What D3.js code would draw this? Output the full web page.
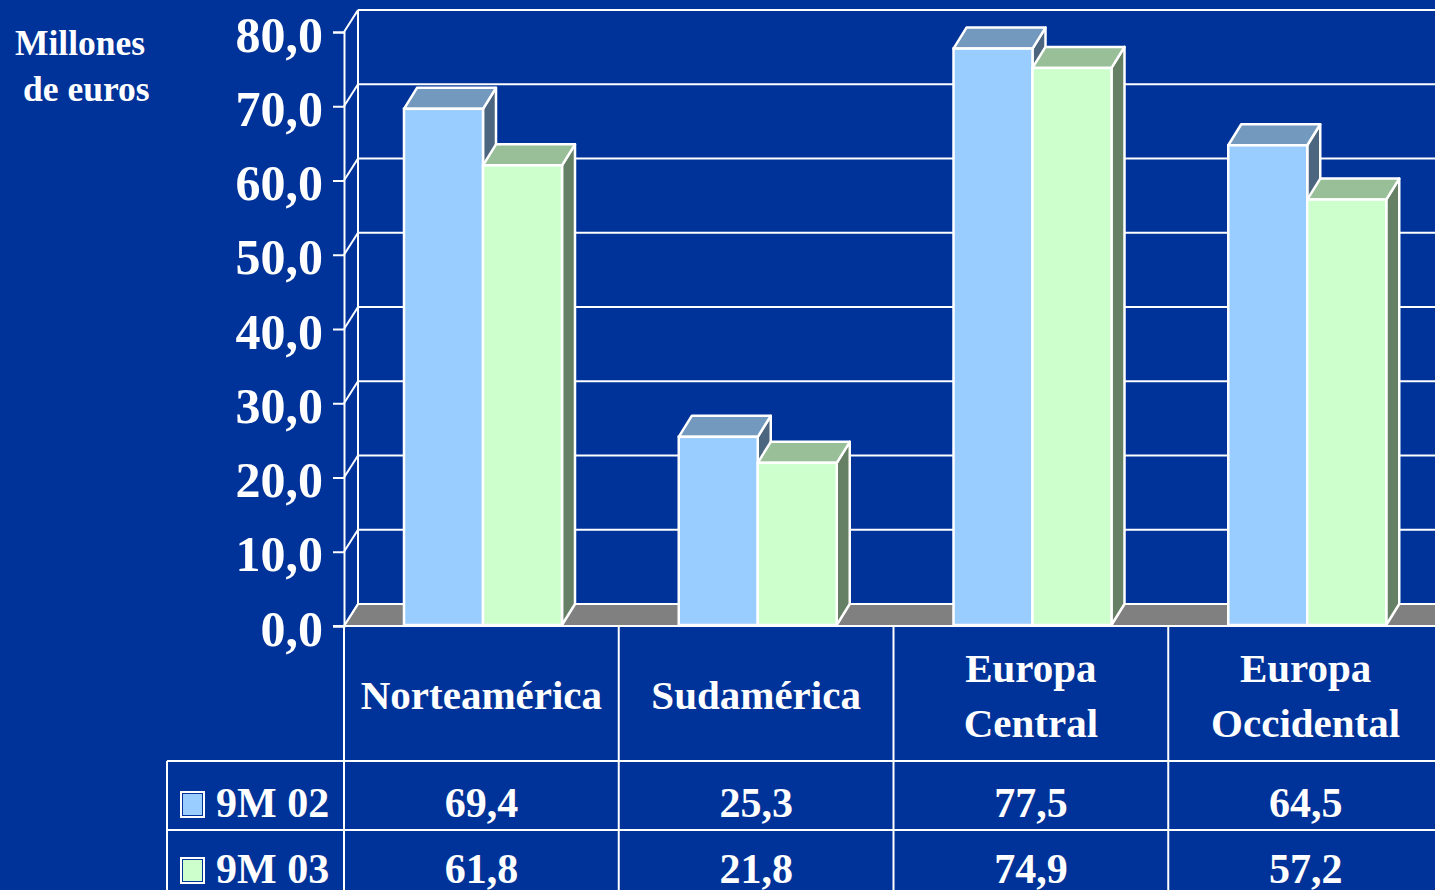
<!doctype HTML>
<html>
<head>
    <meta charset="utf-8">
    <style>
        body { margin: 0; background: #003399; }
        text { font-family: "Liberation Serif", "Times New Roman", serif; font-weight: bold; fill: #fff; }
    </style>
    <script src="https://d3js.org/d3.v7.min.js"></script>
</head>
<body>
<script>
    // data
    var categories = ["Norteamérica", "Sudamérica", "Europa Central", "Europa Occidental"];
    var categoryLines = [["Norteamérica"], ["Sudamérica"], ["Europa", "Central"], ["Europa", "Occidental"]];
    var seriesNames = ["9M 02", "9M 03"];
    var values02 = [69.4, 25.3, 77.5, 64.5];
    var values03 = [61.8, 21.8, 74.9, 57.2];
    var yTicks = [0, 10, 20, 30, 40, 50, 60, 70, 80];

    var canvasWidth = 1435;
    var canvasHeight = 890;
    var bg = "#003399";

    var colors = {
        "9M 02": {front: "#99ccff", top: "#7399bf", side: "#4c6680"},
        "9M 03": {front: "#ccffcc", top: "#99bf99", side: "#668066"}
    };

    var svg = d3.select("body").append("svg")
        .attr("width", canvasWidth)
        .attr("height", canvasHeight);

    svg.append("rect").attr("width", canvasWidth).attr("height", canvasHeight).attr("fill", bg);

    // wall depth (front plane -> back wall) and bar depth
    var wallDx = 14, wallDy = -22;
    var barDx = 13, barDy = -21;

    var xScale = d3.scaleBand().domain(categories).range([344, 1443]);
    var xSeries = d3.scaleBand().domain(seriesNames).range([60, 218]);
    var yScale = d3.scaleLinear().domain([0, 80]).range([626, 32]);
    var yBar = d3.scaleLinear().domain([0, 80]).range([625, 30]);

    var fmt = function(v) { return d3.format(".1f")(v).replace(".", ","); };

    var x0 = xScale.range()[0];
    var right = canvasWidth + 20;

    // back wall gridlines
    var wall = svg.append("g");
    wall.selectAll(".grid")
        .data(yTicks)
        .enter().append("line")
        .attr("x1", x0 + wallDx).attr("x2", right)
        .attr("y1", function(d) { return yScale(d) + wallDy; })
        .attr("y2", function(d) { return yScale(d) + wallDy; })
        .attr("stroke", "#fff").attr("stroke-width", 2);

    // floor
    wall.append("polygon")
        .attr("points", [[x0, yScale(0)], [x0 + wallDx, yScale(0) + wallDy], [right, yScale(0) + wallDy], [right, yScale(0)]].join(" "))
        .attr("fill", "#808080")
        .attr("stroke", "#fff").attr("stroke-width", 2);

    // side wall: back edge, front axis, diagonals
    wall.append("line")
        .attr("x1", x0 + wallDx).attr("x2", x0 + wallDx)
        .attr("y1", yScale(80) + wallDy).attr("y2", yScale(0) + wallDy)
        .attr("stroke", "#fff").attr("stroke-width", 2);
    wall.selectAll(".diag")
        .data(yTicks)
        .enter().append("line")
        .attr("x1", x0).attr("x2", x0 + wallDx)
        .attr("y1", function(d) { return yScale(d); })
        .attr("y2", function(d) { return yScale(d) + wallDy; })
        .attr("stroke", "#fff").attr("stroke-width", 2);

    // front y axis with ticks
    var axisG = svg.append("g").attr("transform", "translate(" + x0 + ",0)")
        .call(d3.axisLeft(yScale).tickValues(yTicks).tickSize(11).tickPadding(10).tickFormat(fmt));
    axisG.select(".domain").attr("stroke", "#fff").attr("stroke-width", 2);
    axisG.selectAll(".tick line").attr("stroke", "#fff").attr("stroke-width", 2);
    axisG.selectAll(".tick text")
        .attr("font-size", 50)
        .attr("fill", "#fff")
        .attr("font-family", "Liberation Serif, Times New Roman, serif")
        .attr("font-weight", "bold")
        .attr("dy", "0.38em");

    // bars
    var rows = [];
    categories.forEach(function(c, i) {
        rows.push({cat: c, series: "9M 02", value: values02[i]});
        rows.push({cat: c, series: "9M 03", value: values03[i]});
    });

    var bars = svg.append("g").selectAll(".bar")
        .data(rows)
        .enter().append("g").attr("class", "bar");

    bars.each(function(d) {
        var g = d3.select(this);
        var xl = xScale(d.cat) + xSeries(d.series);
        var xr = xl + xSeries.bandwidth();
        var yt = yBar(d.value);
        var yb = yBar(0);
        var c = colors[d.series];
        g.append("polygon")
            .attr("points", [[xr, yt], [xr + barDx, yt + barDy], [xr + barDx, yb + barDy], [xr, yb]].join(" "))
            .attr("fill", c.side).attr("stroke", "#fff").attr("stroke-width", 2.5).attr("stroke-linejoin", "round");
        g.append("polygon")
            .attr("points", [[xl, yt], [xl + barDx, yt + barDy], [xr + barDx, yt + barDy], [xr, yt]].join(" "))
            .attr("fill", c.top).attr("stroke", "#fff").attr("stroke-width", 2.5).attr("stroke-linejoin", "round");
        g.append("rect")
            .attr("x", xl).attr("y", yt)
            .attr("width", xr - xl).attr("height", yb - yt)
            .attr("fill", c.front).attr("stroke", "#fff").attr("stroke-width", 2.5);
    });

    // unit label
    svg.append("text").attr("x", 15).attr("y", 55).attr("font-size", 35.5).text("Millones");
    svg.append("text").attr("x", 23).attr("y", 101).attr("font-size", 35.5).text("de euros");

    // data table
    var table = svg.append("g");
    var tblTop = yScale(0), row1 = 761, row2 = 830, tblLeft = 167;

    table.append("line").attr("x1", x0 - 11).attr("x2", right).attr("y1", tblTop).attr("y2", tblTop)
        .attr("stroke", "#fff").attr("stroke-width", 2);
    [row1, row2].forEach(function(y) {
        table.append("line").attr("x1", tblLeft).attr("x2", right).attr("y1", y).attr("y2", y)
            .attr("stroke", "#fff").attr("stroke-width", 2);
    });
    table.append("line").attr("x1", tblLeft).attr("x2", tblLeft).attr("y1", row1).attr("y2", canvasHeight)
        .attr("stroke", "#fff").attr("stroke-width", 2);
    table.selectAll(".col")
        .data(categories)
        .enter().append("line")
        .attr("x1", function(d) { return xScale(d); })
        .attr("x2", function(d) { return xScale(d); })
        .attr("y1", tblTop).attr("y2", canvasHeight)
        .attr("stroke", "#fff").attr("stroke-width", 2);

    // category headers
    table.selectAll(".cat")
        .data(categories)
        .enter().append("text")
        .attr("text-anchor", "middle")
        .attr("font-size", 41)
        .each(function(d, i) {
            var lines = categoryLines[i];
            var cx = xScale(d) + xScale.bandwidth() / 2;
            var start = 709 - (lines.length - 1) * 27.5;
            var t = d3.select(this);
            lines.forEach(function(l, j) {
                t.append("tspan").attr("x", cx).attr("y", start + j * 55).text(l);
            });
        });

    // legend cells + values
    var seriesValues = [values02, values03];
    var baselines = [817, 883];
    seriesNames.forEach(function(s, k) {
        var by = baselines[k];
        table.append("rect")
            .attr("x", 181).attr("y", by - 25).attr("width", 23).attr("height", 25)
            .attr("fill", colors[s].front).attr("stroke", "#fff").attr("stroke-width", 2);
        table.append("rect")
            .attr("x", 182.5).attr("y", by - 23.5).attr("width", 20).attr("height", 22)
            .attr("fill", "none").attr("stroke", bg).attr("stroke-width", 1);
        table.append("text").attr("x", 216).attr("y", by).attr("font-size", 42).text(s);
        table.selectAll(".v" + k)
            .data(seriesValues[k])
            .enter().append("text")
            .attr("text-anchor", "middle")
            .attr("font-size", 42)
            .attr("x", function(d, i) { return xScale(categories[i]) + xScale.bandwidth() / 2; })
            .attr("y", by)
            .text(fmt);
    });
</script>
</body>
</html>
